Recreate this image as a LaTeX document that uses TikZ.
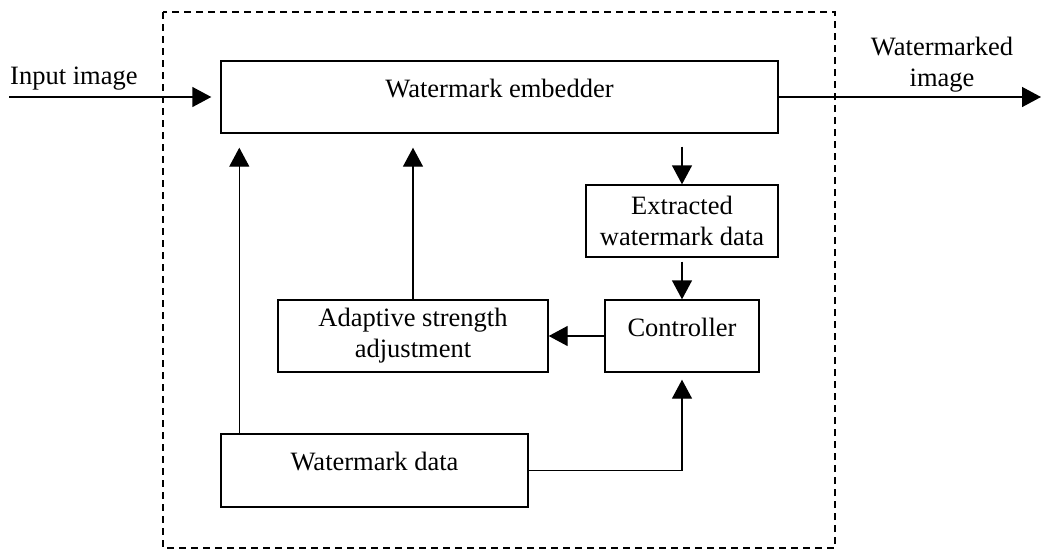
\documentclass[tikz,border=0pt]{standalone}
\usepackage{fontspec}
\setmainfont{Liberation Serif}
\usetikzlibrary{arrows.meta}

\begin{document}
\begin{tikzpicture}[
    x=1pt, y=-1pt,
    font=\fontsize{26.5}{31}\selectfont,
    block/.style={draw, line width=1.4pt, inner sep=0pt, align=center, minimum height=72pt},
    oneline/.style={text height=18pt, text depth=18pt},
    flow/.style={line width=1.4pt, -{Triangle[length=19pt, width=20pt]}},
    frame/.style={line width=1.2pt, dash pattern=on 7pt off 5pt},
]
\useasboundingbox (0,0) rectangle (1041,550);
\draw[frame] (163,12) rectangle (835,548);

\node[block, oneline, minimum width=557pt] (embedder) at (499.5,97) {Watermark embedder};
\node[block, minimum width=192pt] (extracted) at (682,221) {Extracted\\watermark data};
\node[block, oneline, minimum width=154pt] (controller) at (682,336) {Controller};
\node[block, minimum width=270pt] (adaptive) at (413,336) {Adaptive strength\\adjustment};
\node[block, oneline, minimum width=307pt, minimum height=73pt] (wmdata) at (374.5,470.5) {Watermark data};

\node[anchor=base west, inner sep=0pt] (inlabel) at (10,84) {Input image};
\node[align=center, inner sep=0pt] (outlabel) at (942,65) {Watermarked\\image};
\coordinate (in) at (9,97);
\coordinate (out) at (1041,97);
\coordinate (wmup) at ([xshift=19pt]wmdata.north west);

\draw[flow, shorten >=9pt] (in) -- (embedder.west);
\draw[flow] (embedder.east) -- (out);
\draw[flow, shorten <=13pt] (extracted.north |- embedder.south) -- (extracted.north);
\draw[flow, shorten <=4pt] (extracted.south) -- (controller.north);
\draw[flow] (controller.west) -- (adaptive.east);
\draw[flow, shorten >=14pt] (adaptive.north) -- (adaptive.north |- embedder.south);
\draw[flow, shorten >=14pt] (wmup) -- (wmup |- embedder.south);
\draw[flow, shorten >=7pt] (wmdata.east) -- (wmdata.east -| controller.south) -- (controller.south);
\end{tikzpicture}
\end{document}
